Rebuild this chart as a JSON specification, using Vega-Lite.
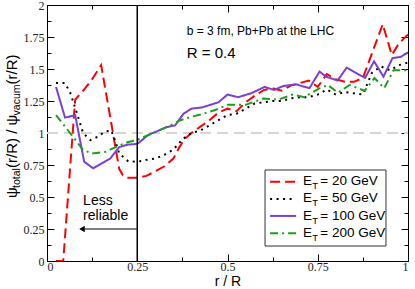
{
  "$schema": "https://vega.github.io/schema/vega-lite/v6.json",
  "width": 361,
  "height": 256,
  "autosize": "none",
  "padding": {"left": 47, "top": 5, "right": 7, "bottom": 28},
  "config": {
    "view": {"stroke": "#000", "strokeWidth": 1},
    "axis": {"grid": false, "domainColor": "#000", "tickColor": "#000", "labelFont": "Liberation Serif", "labelFontSize": 12, "labelColor": "#222", "titleFont": "Liberation Sans", "titleFontWeight": "normal", "titleColor": "#000"},
    "text": {"font": "Liberation Sans", "color": "#000"}
  },
  "data": {"values": [{}]},
  "datasets": {
    "curves": [
      {"ET": "20 GeV", "r": 0.025, "psi": 0.0},
      {"ET": "20 GeV", "r": 0.045, "psi": 0.0},
      {"ET": "20 GeV", "r": 0.078, "psi": 1.26},
      {"ET": "20 GeV", "r": 0.1, "psi": 1.33},
      {"ET": "20 GeV", "r": 0.125, "psi": 1.42},
      {"ET": "20 GeV", "r": 0.15, "psi": 1.53},
      {"ET": "20 GeV", "r": 0.2, "psi": 0.72},
      {"ET": "20 GeV", "r": 0.21, "psi": 0.67},
      {"ET": "20 GeV", "r": 0.225, "psi": 0.65},
      {"ET": "20 GeV", "r": 0.25, "psi": 0.65},
      {"ET": "20 GeV", "r": 0.275, "psi": 0.665},
      {"ET": "20 GeV", "r": 0.3, "psi": 0.7},
      {"ET": "20 GeV", "r": 0.325, "psi": 0.74},
      {"ET": "20 GeV", "r": 0.35, "psi": 0.8},
      {"ET": "20 GeV", "r": 0.365, "psi": 0.88},
      {"ET": "20 GeV", "r": 0.38, "psi": 0.95},
      {"ET": "20 GeV", "r": 0.4, "psi": 1.0},
      {"ET": "20 GeV", "r": 0.425, "psi": 1.05},
      {"ET": "20 GeV", "r": 0.45, "psi": 1.1},
      {"ET": "20 GeV", "r": 0.475, "psi": 1.16},
      {"ET": "20 GeV", "r": 0.5, "psi": 1.19},
      {"ET": "20 GeV", "r": 0.525, "psi": 1.17},
      {"ET": "20 GeV", "r": 0.55, "psi": 1.24},
      {"ET": "20 GeV", "r": 0.575, "psi": 1.29},
      {"ET": "20 GeV", "r": 0.6, "psi": 1.335},
      {"ET": "20 GeV", "r": 0.625, "psi": 1.35},
      {"ET": "20 GeV", "r": 0.65, "psi": 1.33},
      {"ET": "20 GeV", "r": 0.675, "psi": 1.37},
      {"ET": "20 GeV", "r": 0.7, "psi": 1.39},
      {"ET": "20 GeV", "r": 0.725, "psi": 1.41},
      {"ET": "20 GeV", "r": 0.75, "psi": 1.36},
      {"ET": "20 GeV", "r": 0.775, "psi": 1.46},
      {"ET": "20 GeV", "r": 0.8, "psi": 1.42},
      {"ET": "20 GeV", "r": 0.825, "psi": 1.4},
      {"ET": "20 GeV", "r": 0.85, "psi": 1.4},
      {"ET": "20 GeV", "r": 0.875, "psi": 1.43},
      {"ET": "20 GeV", "r": 0.93, "psi": 1.85},
      {"ET": "20 GeV", "r": 0.955, "psi": 1.61},
      {"ET": "20 GeV", "r": 0.975, "psi": 1.7},
      {"ET": "20 GeV", "r": 1.0, "psi": 1.77},
      {"ET": "50 GeV", "r": 0.025, "psi": 1.39},
      {"ET": "50 GeV", "r": 0.05, "psi": 1.39},
      {"ET": "50 GeV", "r": 0.065, "psi": 1.31},
      {"ET": "50 GeV", "r": 0.08, "psi": 1.18},
      {"ET": "50 GeV", "r": 0.1, "psi": 1.0},
      {"ET": "50 GeV", "r": 0.12, "psi": 0.945},
      {"ET": "50 GeV", "r": 0.14, "psi": 0.97},
      {"ET": "50 GeV", "r": 0.16, "psi": 1.01},
      {"ET": "50 GeV", "r": 0.178, "psi": 1.02},
      {"ET": "50 GeV", "r": 0.19, "psi": 0.93},
      {"ET": "50 GeV", "r": 0.2, "psi": 0.84},
      {"ET": "50 GeV", "r": 0.225, "psi": 0.78},
      {"ET": "50 GeV", "r": 0.25, "psi": 0.775},
      {"ET": "50 GeV", "r": 0.275, "psi": 0.79},
      {"ET": "50 GeV", "r": 0.3, "psi": 0.8},
      {"ET": "50 GeV", "r": 0.325, "psi": 0.83},
      {"ET": "50 GeV", "r": 0.35, "psi": 0.87},
      {"ET": "50 GeV", "r": 0.375, "psi": 0.95},
      {"ET": "50 GeV", "r": 0.4, "psi": 1.0},
      {"ET": "50 GeV", "r": 0.425, "psi": 1.02},
      {"ET": "50 GeV", "r": 0.45, "psi": 1.06},
      {"ET": "50 GeV", "r": 0.475, "psi": 1.1},
      {"ET": "50 GeV", "r": 0.5, "psi": 1.14},
      {"ET": "50 GeV", "r": 0.525, "psi": 1.15},
      {"ET": "50 GeV", "r": 0.55, "psi": 1.19},
      {"ET": "50 GeV", "r": 0.575, "psi": 1.23},
      {"ET": "50 GeV", "r": 0.6, "psi": 1.24},
      {"ET": "50 GeV", "r": 0.625, "psi": 1.25},
      {"ET": "50 GeV", "r": 0.65, "psi": 1.25},
      {"ET": "50 GeV", "r": 0.675, "psi": 1.27},
      {"ET": "50 GeV", "r": 0.7, "psi": 1.28},
      {"ET": "50 GeV", "r": 0.725, "psi": 1.28},
      {"ET": "50 GeV", "r": 0.75, "psi": 1.3},
      {"ET": "50 GeV", "r": 0.775, "psi": 1.34},
      {"ET": "50 GeV", "r": 0.8, "psi": 1.3},
      {"ET": "50 GeV", "r": 0.825, "psi": 1.32},
      {"ET": "50 GeV", "r": 0.85, "psi": 1.31},
      {"ET": "50 GeV", "r": 0.875, "psi": 1.3},
      {"ET": "50 GeV", "r": 0.9, "psi": 1.47},
      {"ET": "50 GeV", "r": 0.925, "psi": 1.52},
      {"ET": "50 GeV", "r": 0.95, "psi": 1.49},
      {"ET": "50 GeV", "r": 0.975, "psi": 1.53},
      {"ET": "50 GeV", "r": 1.0, "psi": 1.55},
      {"ET": "100 GeV", "r": 0.025, "psi": 1.36},
      {"ET": "100 GeV", "r": 0.05, "psi": 1.12},
      {"ET": "100 GeV", "r": 0.078, "psi": 1.14},
      {"ET": "100 GeV", "r": 0.103, "psi": 0.776},
      {"ET": "100 GeV", "r": 0.128, "psi": 0.724},
      {"ET": "100 GeV", "r": 0.15, "psi": 0.76},
      {"ET": "100 GeV", "r": 0.175, "psi": 0.8},
      {"ET": "100 GeV", "r": 0.2, "psi": 0.89},
      {"ET": "100 GeV", "r": 0.225, "psi": 0.91},
      {"ET": "100 GeV", "r": 0.25, "psi": 0.914},
      {"ET": "100 GeV", "r": 0.28, "psi": 0.984},
      {"ET": "100 GeV", "r": 0.31, "psi": 1.02},
      {"ET": "100 GeV", "r": 0.33, "psi": 1.045},
      {"ET": "100 GeV", "r": 0.355, "psi": 1.06},
      {"ET": "100 GeV", "r": 0.378, "psi": 1.15},
      {"ET": "100 GeV", "r": 0.4, "psi": 1.19},
      {"ET": "100 GeV", "r": 0.43, "psi": 1.2},
      {"ET": "100 GeV", "r": 0.475, "psi": 1.24},
      {"ET": "100 GeV", "r": 0.5, "psi": 1.3},
      {"ET": "100 GeV", "r": 0.53, "psi": 1.28},
      {"ET": "100 GeV", "r": 0.565, "psi": 1.31},
      {"ET": "100 GeV", "r": 0.603, "psi": 1.36},
      {"ET": "100 GeV", "r": 0.629, "psi": 1.336},
      {"ET": "100 GeV", "r": 0.654, "psi": 1.367},
      {"ET": "100 GeV", "r": 0.69, "psi": 1.38},
      {"ET": "100 GeV", "r": 0.727, "psi": 1.35},
      {"ET": "100 GeV", "r": 0.755, "psi": 1.48},
      {"ET": "100 GeV", "r": 0.773, "psi": 1.44},
      {"ET": "100 GeV", "r": 0.805, "psi": 1.41},
      {"ET": "100 GeV", "r": 0.83, "psi": 1.51},
      {"ET": "100 GeV", "r": 0.856, "psi": 1.47},
      {"ET": "100 GeV", "r": 0.881, "psi": 1.43},
      {"ET": "100 GeV", "r": 0.906, "psi": 1.56},
      {"ET": "100 GeV", "r": 0.932, "psi": 1.44},
      {"ET": "100 GeV", "r": 0.957, "psi": 1.585},
      {"ET": "100 GeV", "r": 0.98, "psi": 1.595},
      {"ET": "100 GeV", "r": 1.0, "psi": 1.63},
      {"ET": "200 GeV", "r": 0.025, "psi": 1.14},
      {"ET": "200 GeV", "r": 0.05, "psi": 1.05},
      {"ET": "200 GeV", "r": 0.075, "psi": 0.96},
      {"ET": "200 GeV", "r": 0.1, "psi": 0.867},
      {"ET": "200 GeV", "r": 0.125, "psi": 0.84},
      {"ET": "200 GeV", "r": 0.163, "psi": 0.854},
      {"ET": "200 GeV", "r": 0.19, "psi": 0.89},
      {"ET": "200 GeV", "r": 0.225, "psi": 0.93},
      {"ET": "200 GeV", "r": 0.25, "psi": 0.945},
      {"ET": "200 GeV", "r": 0.28, "psi": 0.984},
      {"ET": "200 GeV", "r": 0.31, "psi": 1.02},
      {"ET": "200 GeV", "r": 0.335, "psi": 1.05},
      {"ET": "200 GeV", "r": 0.37, "psi": 1.1},
      {"ET": "200 GeV", "r": 0.4, "psi": 1.127},
      {"ET": "200 GeV", "r": 0.433, "psi": 1.15},
      {"ET": "200 GeV", "r": 0.466, "psi": 1.18},
      {"ET": "200 GeV", "r": 0.5, "psi": 1.22},
      {"ET": "200 GeV", "r": 0.55, "psi": 1.22},
      {"ET": "200 GeV", "r": 0.6, "psi": 1.27},
      {"ET": "200 GeV", "r": 0.64, "psi": 1.26},
      {"ET": "200 GeV", "r": 0.68, "psi": 1.3},
      {"ET": "200 GeV", "r": 0.713, "psi": 1.28},
      {"ET": "200 GeV", "r": 0.752, "psi": 1.345},
      {"ET": "200 GeV", "r": 0.778, "psi": 1.375},
      {"ET": "200 GeV", "r": 0.806, "psi": 1.315},
      {"ET": "200 GeV", "r": 0.838, "psi": 1.375},
      {"ET": "200 GeV", "r": 0.88, "psi": 1.33},
      {"ET": "200 GeV", "r": 0.907, "psi": 1.43},
      {"ET": "200 GeV", "r": 0.934, "psi": 1.35},
      {"ET": "200 GeV", "r": 0.96, "psi": 1.49},
      {"ET": "200 GeV", "r": 1.0, "psi": 1.49}
    ]
  },
  "resolve": {"axis": {"x": "independent", "y": "independent"}},
  "layer": [
    {
      "mark": {"type": "rule", "color": "#d6d6d6", "strokeWidth": 2, "strokeDash": [11, 6]},
      "encoding": {
        "x": {"datum": 0, "type": "quantitative", "scale": {"domain": [0, 1], "nice": false},
          "axis": {"orient": "top", "values": [0, 0.125, 0.25, 0.375, 0.5, 0.625, 0.75, 0.875, 1], "labels": false, "title": null,
            "tickSize": {"condition": {"test": "datum.value * 4 % 1 === 0", "value": -7}, "value": -4}}},
        "x2": {"datum": 1},
        "y": {"datum": 1, "type": "quantitative", "scale": {"domain": [0, 2], "nice": false},
          "axis": {"orient": "right", "values": [0, 0.125, 0.25, 0.375, 0.5, 0.625, 0.75, 0.875, 1, 1.125, 1.25, 1.375, 1.5, 1.625, 1.75, 1.875, 2], "labels": false, "title": null,
            "tickSize": {"condition": {"test": "datum.value * 4 % 1 === 0", "value": -7}, "value": -4}}}
      }
    },
    {
      "data": {"name": "curves"},
      "mark": {"type": "line", "strokeWidth": 2, "clip": true},
      "encoding": {
        "x": {"field": "r", "type": "quantitative", "scale": {"domain": [0, 1], "nice": false},
          "axis": {"orient": "bottom", "values": [0, 0.125, 0.25, 0.375, 0.5, 0.625, 0.75, 0.875, 1], "format": ".3~g",
            "labelExpr": "datum.value * 4 % 1 === 0 ? datum.label : ''",
            "tickSize": {"condition": {"test": "datum.value * 4 % 1 === 0", "value": -7}, "value": -4},
            "labelPadding": 7, "title": "r / R", "titleFontSize": 14, "titlePadding": 2}},
        "y": {"field": "psi", "type": "quantitative", "scale": {"domain": [0, 2], "nice": false},
          "axis": {"orient": "left", "values": [0, 0.125, 0.25, 0.375, 0.5, 0.625, 0.75, 0.875, 1, 1.125, 1.25, 1.375, 1.5, 1.625, 1.75, 1.875, 2], "format": ".3~g",
            "labelExpr": "datum.value * 4 % 1 === 0 ? datum.label : ''",
            "tickSize": {"condition": {"test": "datum.value * 4 % 1 === 0", "value": -7}, "value": -4},
            "labelPadding": 10, "title": null}},
        "color": {"field": "ET", "type": "nominal", "legend": null,
          "scale": {"domain": ["20 GeV", "50 GeV", "100 GeV", "200 GeV"], "range": ["#ff0000", "#000000", "#7b3fd3", "#1e9e1e"]}},
        "strokeDash": {"field": "ET", "type": "nominal", "legend": null,
          "scale": {"domain": ["20 GeV", "50 GeV", "100 GeV", "200 GeV"], "range": [[10, 5], [2, 4.5], [1, 0], [8, 4, 2, 4]]}}
      }
    },
    {
      "mark": {"type": "rule", "color": "#000", "strokeWidth": 1.5},
      "encoding": {
        "x": {"datum": 0.25, "type": "quantitative", "axis": null},
        "y": {"datum": 0, "type": "quantitative", "axis": null},
        "y2": {"datum": 2}
      }
    },
    {
      "mark": {"type": "rule", "color": "#000", "strokeWidth": 1},
      "encoding": {
        "x": {"datum": 0.097, "type": "quantitative", "axis": null},
        "x2": {"datum": 0.25},
        "y": {"datum": 0.25, "type": "quantitative", "axis": null}
      }
    },
    {
      "mark": {"type": "point", "shape": "triangle-left", "filled": true, "color": "#000", "size": 40, "opacity": 1},
      "encoding": {
        "x": {"datum": 0.097, "type": "quantitative", "axis": null},
        "y": {"datum": 0.25, "type": "quantitative", "axis": null}
      }
    },
    {
      "mark": {"type": "text", "align": "left", "baseline": "middle", "fontSize": 14, "lineHeight": 14.5},
      "encoding": {
        "x": {"datum": 0.1, "type": "quantitative", "axis": null},
        "y": {"datum": 0.468, "type": "quantitative", "axis": null},
        "text": {"value": ["Less", "reliable"]}
      }
    },
    {
      "mark": {"type": "text", "align": "left", "baseline": "middle", "fontSize": 12},
      "encoding": {
        "x": {"datum": 0.387, "type": "quantitative", "axis": null},
        "y": {"datum": 1.8, "type": "quantitative", "axis": null},
        "text": {"value": "b = 3 fm,  Pb+Pb at the LHC"}
      }
    },
    {
      "mark": {"type": "text", "align": "left", "baseline": "middle", "fontSize": 15},
      "encoding": {
        "x": {"datum": 0.387, "type": "quantitative", "axis": null},
        "y": {"datum": 1.625, "type": "quantitative", "axis": null},
        "text": {"value": "R = 0.4"}
      }
    },
    {
      "mark": {"type": "rect", "fill": "#fff", "stroke": "#333", "strokeWidth": 1},
      "encoding": {
        "x": {"datum": 0.604, "type": "quantitative", "axis": null},
        "x2": {"datum": 0.939},
        "y": {"datum": 0.711, "type": "quantitative", "axis": null},
        "y2": {"datum": 0.117}
      }
    },
    {
      "mark": {"type": "rule", "color": "#ff0000", "strokeWidth": 2, "strokeDash": [10, 5]},
      "encoding": {
        "x": {"datum": 0.618, "type": "quantitative", "axis": null},
        "x2": {"datum": 0.69},
        "y": {"datum": 0.62, "type": "quantitative", "axis": null}
      }
    },
    {
      "mark": {"type": "rule", "color": "#000000", "strokeWidth": 2, "strokeDash": [2, 4.5]},
      "encoding": {
        "x": {"datum": 0.618, "type": "quantitative", "axis": null},
        "x2": {"datum": 0.69},
        "y": {"datum": 0.484, "type": "quantitative", "axis": null}
      }
    },
    {
      "mark": {"type": "rule", "color": "#7b3fd3", "strokeWidth": 2},
      "encoding": {
        "x": {"datum": 0.618, "type": "quantitative", "axis": null},
        "x2": {"datum": 0.69},
        "y": {"datum": 0.352, "type": "quantitative", "axis": null}
      }
    },
    {
      "mark": {"type": "rule", "color": "#1e9e1e", "strokeWidth": 2, "strokeDash": [8, 4, 2, 4]},
      "encoding": {
        "x": {"datum": 0.618, "type": "quantitative", "axis": null},
        "x2": {"datum": 0.69},
        "y": {"datum": 0.216, "type": "quantitative", "axis": null}
      }
    },
    {
      "mark": {"type": "text", "align": "left", "baseline": "middle", "fontSize": 13.5, "lineHeight": 17.5, "dy": -1},
      "encoding": {
        "x": {"datum": 0.709, "type": "quantitative", "axis": null},
        "y": {"datum": 0.62, "type": "quantitative", "axis": null},
        "text": {"value": ["E", "E", "E", "E"]}
      }
    },
    {
      "mark": {"type": "text", "align": "left", "baseline": "middle", "fontSize": 9.5, "lineHeight": 17.5, "dy": 4},
      "encoding": {
        "x": {"datum": 0.735, "type": "quantitative", "axis": null},
        "y": {"datum": 0.62, "type": "quantitative", "axis": null},
        "text": {"value": ["T", "T", "T", "T"]}
      }
    },
    {
      "mark": {"type": "text", "align": "left", "baseline": "middle", "fontSize": 13.5, "lineHeight": 17.5, "dy": -1},
      "encoding": {
        "x": {"datum": 0.757, "type": "quantitative", "axis": null},
        "y": {"datum": 0.62, "type": "quantitative", "axis": null},
        "text": {"value": ["= 20 GeV", "= 50 GeV", "= 100 GeV", "= 200 GeV"]}
      }
    },
    {
      "mark": {"type": "text", "align": "left", "baseline": "middle", "angle": 270, "fontSize": 15},
      "encoding": {
        "x": {"datum": -0.097, "type": "quantitative", "axis": null},
        "y": {"datum": 0.492, "type": "quantitative", "axis": null},
        "text": {"value": "ψ"}
      }
    },
    {
      "mark": {"type": "text", "align": "left", "baseline": "middle", "angle": 270, "fontSize": 10.5},
      "encoding": {
        "x": {"datum": -0.083, "type": "quantitative", "axis": null},
        "y": {"datum": 0.57, "type": "quantitative", "axis": null},
        "text": {"value": "total"}
      }
    },
    {
      "mark": {"type": "text", "align": "left", "baseline": "middle", "angle": 270, "fontSize": 15},
      "encoding": {
        "x": {"datum": -0.097, "type": "quantitative", "axis": null},
        "y": {"datum": 0.727, "type": "quantitative", "axis": null},
        "text": {"value": "(r/R) / ψ"}
      }
    },
    {
      "mark": {"type": "text", "align": "left", "baseline": "middle", "angle": 270, "fontSize": 10.5},
      "encoding": {
        "x": {"datum": -0.083, "type": "quantitative", "axis": null},
        "y": {"datum": 1.137, "type": "quantitative", "axis": null},
        "text": {"value": "vacum"}
      }
    },
    {
      "mark": {"type": "text", "align": "left", "baseline": "middle", "angle": 270, "fontSize": 15},
      "encoding": {
        "x": {"datum": -0.097, "type": "quantitative", "axis": null},
        "y": {"datum": 1.379, "type": "quantitative", "axis": null},
        "text": {"value": "(r/R)"}
      }
    }
  ]
}
